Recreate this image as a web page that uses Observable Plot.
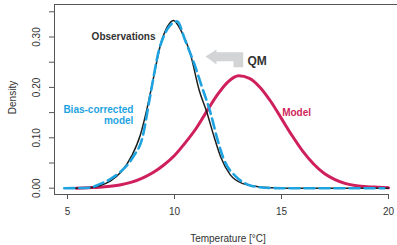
<!DOCTYPE html>
<html>
<head>
<meta charset="utf-8">
<script src="https://cdn.jsdelivr.net/npm/d3@7"></script>
<script src="https://cdn.jsdelivr.net/npm/@observablehq/plot@0.6"></script>
<style>
  html, body { margin: 0; padding: 0; background: #fff; }
  #chart svg { display: block; }
</style>
</head>
<body>
<div id="chart"></div>
<script>
// Observations (black)
const obsX = [5.0, 6.0, 6.5, 7.0, 7.5, 8.0, 8.4, 8.7, 9.0, 9.35, 9.65, 9.95, 10.3, 10.75, 11.15, 11.5, 11.85, 12.15, 12.6, 13.2, 13.9, 14.5, 15.0, 17.5, 20.0];
const obsY = [0.0, 0.001, 0.005, 0.014, 0.032, 0.064, 0.105, 0.155, 0.215, 0.285, 0.319, 0.333, 0.313, 0.265, 0.195, 0.152, 0.102, 0.063, 0.027, 0.009, 0.003, 0.001, 0.0, 0.0, 0.0];
// Bias-corrected model (blue dashed)
const bcX = [4.85, 6.0, 6.5, 7.0, 7.4, 7.8, 8.1, 8.5, 8.85, 9.27, 9.66, 10.12, 10.5, 10.98, 11.25, 11.68, 12.0, 12.3, 12.9, 13.5, 14.2, 15.0, 17.5, 19.8];
const bcY = [0.0, 0.001, 0.008, 0.018, 0.030, 0.046, 0.064, 0.100, 0.180, 0.273, 0.315, 0.331, 0.293, 0.240, 0.205, 0.150, 0.098, 0.058, 0.022, 0.006, 0.001, 0.0, 0.0, 0.0];
// Model (crimson)
const modX = [5.4, 6.0, 6.5, 7.0, 7.5, 8.0, 8.5, 9.0, 9.5, 10.0, 10.5, 11.0, 11.5, 12.0, 12.5, 13.0, 13.5, 14.0, 14.5, 15.0, 15.5, 16.0, 16.5, 17.0, 17.5, 18.0, 18.5, 19.0, 19.5, 20.0];
const modY = [0.0, 0.001, 0.002, 0.004, 0.007, 0.012, 0.020, 0.031, 0.046, 0.065, 0.090, 0.118, 0.152, 0.185, 0.211, 0.223, 0.218, 0.200, 0.172, 0.138, 0.104, 0.073, 0.048, 0.029, 0.017, 0.009, 0.005, 0.003, 0.002, 0.001];

const xTicks = [5, 10, 15, 20];
const yTicks = [0, 0.05, 0.10, 0.15, 0.20, 0.25, 0.30, 0.35];
const yLabelValues = [0, 0.10, 0.20, 0.30];
const yLabelTexts = ["0.00", "0.10", "0.20", "0.30"];

const xDomain = [4.393, 20.42];
const yDomain = [-0.0125, 0.3645];

// QM arrow outline (data coordinates)
const arrowX = [11.449, 11.963, 11.963, 13.21, 13.21, 12.757, 12.757, 11.963, 11.963, 11.449];
const arrowY = [0.2613, 0.2752, 0.2698, 0.2698, 0.2401, 0.2401, 0.252, 0.252, 0.2454, 0.2613];

// Annotation labels
const obsLabel = {t: "Observations", x: 7.62, y: 0.301};
const qmLabel = {t: "QM", x: 13.41, y: 0.253};
const bcLabels = [{t: "Bias-corrected", x: 8.08, y: 0.155}, {t: "model", x: 8.08, y: 0.1345}];
const modLabel = {t: "Model", x: 15.03, y: 0.150};

const obs = obsX.map((x, i) => ({x, y: obsY[i]}));
const bc = bcX.map((x, i) => ({x, y: bcY[i]}));
const mod = modX.map((x, i) => ({x, y: modY[i]}));
const arrow = arrowX.map((x, i) => ({x, y: arrowY[i]}));
const yLabs = yLabelValues.map((v, i) => ({v, t: yLabelTexts[i]}));

const axisColor = "#555";
const textColor = "#333";
const red = "#cf1f5c";
const blue = "#1ea3e0";
const font = "'Liberation Sans', Arial, Helvetica, sans-serif";

const chart = Plot.plot({
  width: 397,
  height: 245,
  marginLeft: 54,
  marginTop: 4,
  marginBottom: 51,
  marginRight: 0,
  style: {fontFamily: font, fontSize: "10px", color: textColor, background: "#fff"},
  x: {domain: xDomain},
  y: {domain: yDomain},
  marks: [
    Plot.ruleX([xDomain[0]], {stroke: axisColor, strokeWidth: 1}),
    Plot.ruleY([yDomain[1]], {stroke: axisColor, strokeWidth: 1}),
    Plot.ruleY([yDomain[0]], {x1: xDomain[0], x2: xTicks[xTicks.length - 1], stroke: axisColor, strokeWidth: 1}),
    Plot.axisX({ticks: xTicks, tickSize: 5, tickPadding: 8, stroke: axisColor, fill: textColor, fontSize: 10, label: null}),
    Plot.axisY({ticks: yTicks, tickSize: 5, tickFormat: () => "", stroke: axisColor, label: null}),
    Plot.text(yLabs, {y: "v", text: "t", frameAnchor: "left", dx: -18, rotate: -90, textAnchor: "middle", lineAnchor: "middle", fill: textColor, fontSize: 10}),
    Plot.text(["Density"], {frameAnchor: "left", dx: -42, dy: -2, rotate: -90, textAnchor: "middle", lineAnchor: "middle", fill: textColor, fontSize: 10}),
    Plot.text(["Temperature [°C]"], {x: [12.5], frameAnchor: "bottom", dy: 44, textAnchor: "middle", lineAnchor: "middle", fill: textColor, fontSize: 10}),
    Plot.line(arrow, {x: "x", y: "y", fill: "#d2d4d6", stroke: "none", curve: "linear"}),
    Plot.line(mod, {x: "x", y: "y", stroke: red, strokeWidth: 3, curve: "monotone-x"}),
    Plot.line(obs, {x: "x", y: "y", stroke: "#1e1e1e", strokeWidth: 1.5, curve: "monotone-x"}),
    Plot.line(bc, {x: "x", y: "y", stroke: blue, strokeWidth: 2.6, strokeDasharray: "10,5", curve: "monotone-x"}),
    Plot.text([obsLabel], {x: "x", y: "y", text: "t", fill: textColor, textAnchor: "middle", fontSize: 10, fontWeight: "bold", lineAnchor: "middle"}),
    Plot.text([qmLabel], {x: "x", y: "y", text: "t", fill: textColor, textAnchor: "start", fontSize: 12, fontWeight: "bold", lineAnchor: "middle"}),
    Plot.text(bcLabels, {x: "x", y: "y", text: "t", fill: blue, textAnchor: "end", fontSize: 10, fontWeight: "bold", lineAnchor: "middle"}),
    Plot.text([modLabel], {x: "x", y: "y", text: "t", fill: red, textAnchor: "start", fontSize: 10, fontWeight: "bold", lineAnchor: "middle"})
  ]
});
document.getElementById("chart").appendChild(chart);
</script>
</body>
</html>
